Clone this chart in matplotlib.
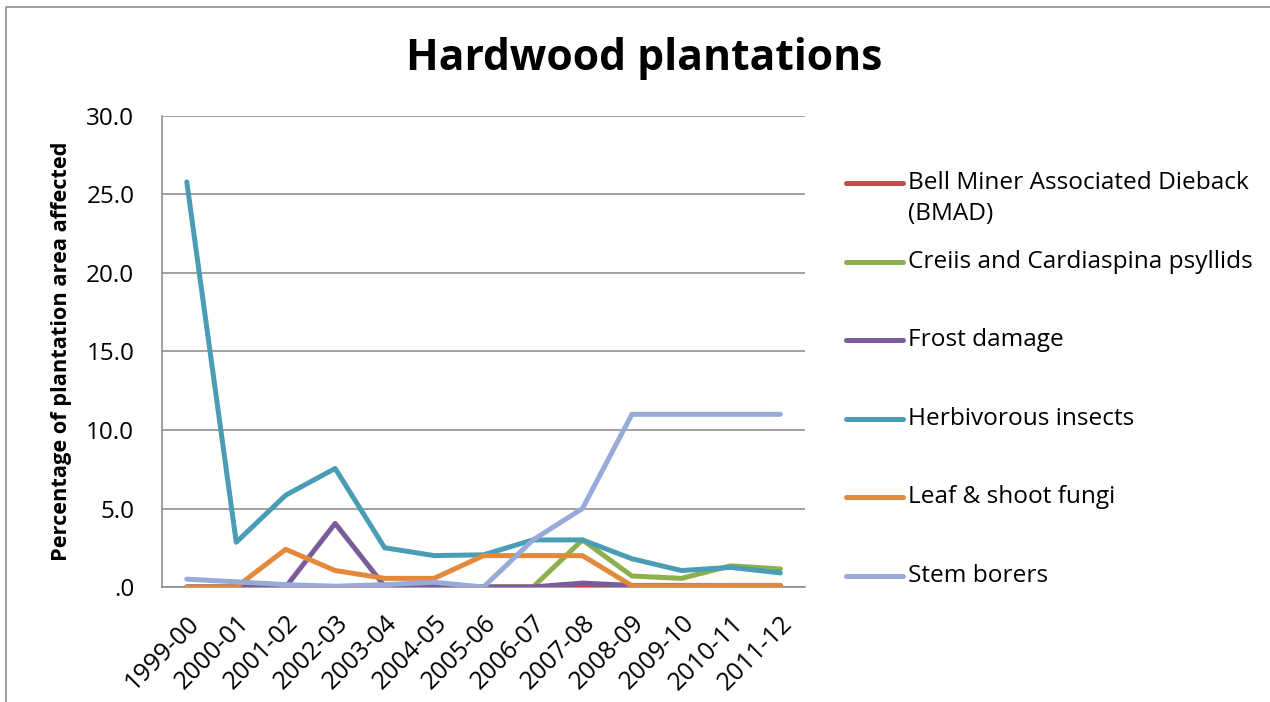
#!/usr/bin/env python3
"""Hardwood plantations: percentage of plantation area affected by damage type"""

import matplotlib
matplotlib.use("Agg")
import matplotlib.pyplot as plt
from matplotlib.lines import Line2D


years = ["1999-00", "2000-01", "2001-02", "2002-03", "2003-04", "2004-05",
         "2005-06", "2006-07", "2007-08", "2008-09", "2009-10", "2010-11",
         "2011-12"]

bmad = [0, 0, 0, 0, 0, 0, 0, 0, 0, 0.1, 0.1, 0.1, 0.1]
psyllids = [0, 0, 0, 0, 0, 0, 0, 0, 3.0, 0.7, 0.55, 1.35, 1.15]
frost = [0, 0, 0, 4.05, 0.05, 0.05, 0, 0, 0.25, 0.1, 0.05, 0, 0]
herbivorous = [25.8, 2.85, 5.85, 7.55, 2.5, 2.0, 2.05, 3.0, 3.0, 1.8,
               1.05, 1.25, 0.9]
fungi = [0, 0, 2.4, 1.05, 0.55, 0.55, 2.0, 2.0, 2.0, 0.08, 0.08, 0.1, 0.1]
stem_borers = [0.5, 0.33, 0.15, 0.05, 0.15, 0.3, 0.0, 3.0, 5.0, 11.0,
               11.0, 11.0, 11.0]

series_names = ["Bell Miner Associated Dieback\n(BMAD)",
                "Creiis and Cardiaspina psyllids",
                "Frost damage",
                "Herbivorous insects",
                "Leaf & shoot fungi",
                "Stem borers"]

y_ticks = [0, 5, 10, 15, 20, 25, 30]
y_tick_labels = [".0", "5.0", "10.0", "15.0", "20.0", "25.0", "30.0"]

COLORS = ["#B9504C", "#8DB04C", "#7A5C9B", "#4A9DB5", "#E3893C", "#97AAD8"]
GRID = "#888888"
FONT = "Open Sans"


def plot_chart(output_name):
    fig = plt.figure(figsize=(12.7, 7.02), dpi=100)
    ax = fig.add_axes([0.1276, 0.1638, 0.5063, 0.671])

    all_series = [bmad, psyllids, frost, herbivorous, fungi, stem_borers]
    x = list(range(len(years)))
    for values, color in zip(all_series, COLORS):
        ax.plot(x, values, color=color, linewidth=3.6,
                solid_capstyle="round", solid_joinstyle="round", zorder=3)

    ax.set_xlim(-0.5, len(years) - 0.5)
    ax.set_ylim(0, 30)
    ax.set_yticks(y_ticks)
    ax.set_yticklabels(y_tick_labels, fontfamily=FONT, fontsize=17.5)
    ax.set_xticks(x)
    ax.set_xticklabels(years, fontfamily=FONT, fontsize=18, rotation=45,
                       ha="right", va="top", rotation_mode="anchor")
    ax.tick_params(axis="y", length=0, pad=20)
    ax.tick_params(axis="x", length=0, pad=17)

    ax.grid(axis="y", color=GRID, linewidth=1.1, zorder=0)
    for side in ["top", "right"]:
        ax.spines[side].set_visible(False)
    for side in ["left", "bottom"]:
        ax.spines[side].set_color(GRID)
        ax.spines[side].set_linewidth(1.1)

    ax.set_ylabel("Percentage of plantation area affected", fontfamily=FONT,
                  fontsize=15.7, fontweight="bold", labelpad=10)

    fig.text(0.507, 0.917, "Hardwood plantations", fontfamily=FONT,
             fontsize=30.7, fontweight="bold", ha="center", va="center")

    # legend drawn by hand so the entries keep Excel's even spacing
    fig_h = 702
    for i, (name, color) in enumerate(zip(series_names, COLORS)):
        y = 1 - (183 + i * 78.6) / fig_h
        fig.add_artist(Line2D([846 / 1270, 903 / 1270], [y, y], color=color,
                              linewidth=3.6, solid_capstyle="round"))
        first, *rest = name.split("\n")
        fig.text(908 / 1270, y, first, fontfamily=FONT, fontsize=17.6,
                 ha="left", va="center")
        for j, line in enumerate(rest):
            fig.text(908 / 1270, y - (j + 1) * 31 / fig_h, line,
                     fontfamily=FONT, fontsize=17.6, ha="left", va="center")

    # chart area frame (only left and top edges are inside the picture)
    fig.add_artist(Line2D([5.5 / 1270, 5.5 / 1270, 1.0],
                          [0.0, 1 - 7 / fig_h, 1 - 7 / fig_h],
                          color="#8C8C8C", linewidth=1.2))

    fig.savefig(output_name, dpi=100)
    plt.close(fig)


def main():
    plot_chart("out.png")


if __name__ == "__main__":
    main()
